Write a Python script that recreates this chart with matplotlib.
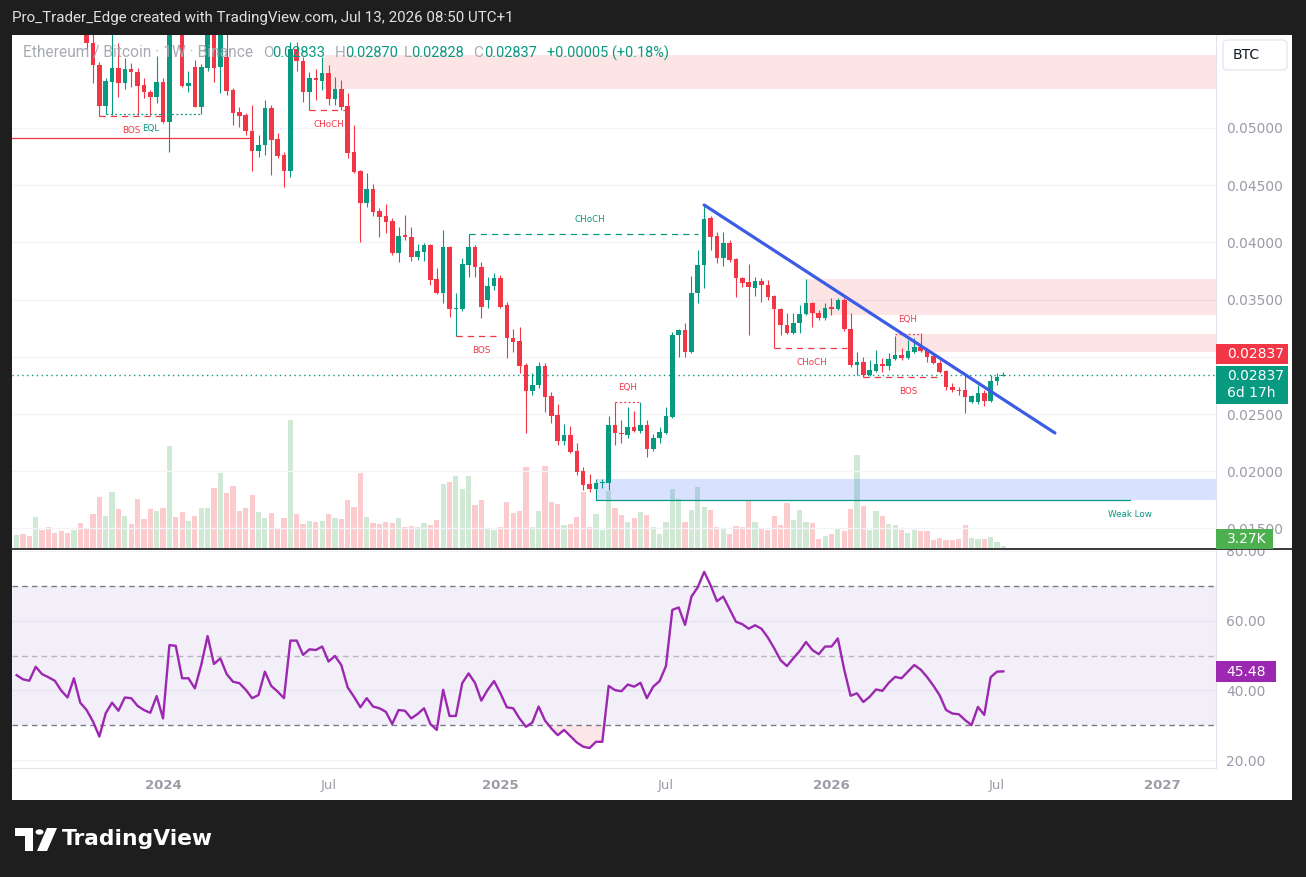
import numpy as np
import pandas as pd
import matplotlib
matplotlib.use("Agg")
import matplotlib.pyplot as plt
from matplotlib.patches import Rectangle, Polygon, Circle, FancyBboxPatch
from matplotlib.lines import Line2D
from matplotlib import font_manager as fm

W, H, DPI = 1306, 877, 100

# ---------------- data ----------------
START_DATE = "2023-07-24"   # first weekly bar

opens = [0.0626, 0.0631, 0.0625, 0.0622, 0.0636, 0.0630, 0.0627, 0.0624, 0.0616, 0.0610,
 0.0620, 0.0604, 0.05743, 0.05551, 0.05192, 0.05402, 0.05524, 0.05393, 0.05516, 0.05489,
 0.05376, 0.05315, 0.05271, 0.05402, 0.05052, 0.05950, 0.05880, 0.05367, 0.05533, 0.05184,
 0.05524, 0.05880, 0.05533, 0.05621, 0.05332, 0.05140, 0.05114, 0.04974, 0.04799, 0.04851,
 0.05175, 0.04904, 0.04764, 0.04624, 0.05690, 0.05586, 0.05315, 0.05437, 0.05411, 0.05481,
 0.05253, 0.05341, 0.05192, 0.04790, 0.04624, 0.04344, 0.04467, 0.04274, 0.04231, 0.04187,
 0.03907, 0.04065, 0.04047, 0.03872, 0.03916, 0.03977, 0.03680, 0.03558, 0.03960, 0.03418,
 0.03418, 0.03802, 0.03960, 0.03785, 0.03500, 0.03620, 0.03689, 0.03453, 0.03164, 0.03138,
 0.02928, 0.02701, 0.02754, 0.02920, 0.02657, 0.02491, 0.02264, 0.02316, 0.02177, 0.02002,
 0.01888, 0.01844, 0.01897, 0.01897, 0.02404, 0.02334, 0.02316, 0.02386, 0.02351, 0.02404,
 0.02194, 0.02290, 0.02334, 0.02474, 0.03191, 0.03234, 0.03042, 0.03558, 0.03802, 0.04213,
 0.04056, 0.03864, 0.03995, 0.03855, 0.03689, 0.03654, 0.03601, 0.03663, 0.03628, 0.03531,
 0.03418, 0.03278, 0.03208, 0.03296, 0.03374, 0.03470, 0.03383, 0.03339, 0.03435, 0.03418,
 0.03497, 0.03243, 0.02928, 0.02955, 0.02841, 0.02876, 0.02937, 0.02920, 0.02981, 0.03016,
 0.02990, 0.03042, 0.03086, 0.03060, 0.03007, 0.02946, 0.02876, 0.02736, 0.02710, 0.02710,
 0.02605, 0.02605, 0.02684, 0.02614, 0.02789, 0.02833]

highs = [0.0636, 0.0634, 0.0629, 0.0640, 0.0640, 0.0634, 0.0631, 0.0628, 0.0621, 0.0625,
 0.0623, 0.0608, 0.0590, 0.05577, 0.05437, 0.05820, 0.05743, 0.05612, 0.05568, 0.05524,
 0.05437, 0.05332, 0.05629, 0.05437, 0.06150, 0.06100, 0.05950, 0.05498, 0.05594, 0.05560,
 0.05990, 0.05950, 0.05900, 0.05830, 0.05350, 0.05184, 0.05130, 0.05201, 0.04939, 0.05245,
 0.05201, 0.04956, 0.04790, 0.05752, 0.05752, 0.05621, 0.05489, 0.05520, 0.05621, 0.05551,
 0.05446, 0.05420, 0.05306, 0.05026, 0.04633, 0.04607, 0.04510, 0.04301, 0.04336, 0.04213,
 0.04135, 0.04240, 0.04135, 0.03986, 0.03995, 0.03986, 0.03776, 0.04108, 0.03965, 0.03558,
 0.03864, 0.04073, 0.03977, 0.03829, 0.03700, 0.03733, 0.03715, 0.03479, 0.03243, 0.03260,
 0.02946, 0.02858, 0.02955, 0.02946, 0.02692, 0.02587, 0.02413, 0.02395, 0.02247, 0.02037,
 0.01976, 0.01932, 0.01932, 0.02483, 0.02605, 0.02448, 0.02561, 0.02526, 0.02605, 0.02448,
 0.02325, 0.02386, 0.02561, 0.03217, 0.03243, 0.03296, 0.03706, 0.03934, 0.04327, 0.04231,
 0.04091, 0.04091, 0.04021, 0.03864, 0.03698, 0.03811, 0.03698, 0.03689, 0.03671, 0.03540,
 0.03427, 0.03383, 0.03383, 0.03453, 0.03680, 0.03479, 0.03409, 0.03470, 0.03514, 0.03514,
 0.03514, 0.03383, 0.03042, 0.02998, 0.02972, 0.03060, 0.02990, 0.03033, 0.03182, 0.03077,
 0.03147, 0.03164, 0.03208, 0.03077, 0.03016, 0.02972, 0.02885, 0.02771, 0.02736, 0.02858,
 0.02666, 0.02754, 0.02710, 0.02841, 0.02858, 0.02870]

lows = [0.0622, 0.0622, 0.0618, 0.0620, 0.0626, 0.0622, 0.0619, 0.0612, 0.0605, 0.0606,
 0.0600, 0.05682, 0.05393, 0.05105, 0.05120, 0.05114, 0.05271, 0.05341, 0.05358, 0.05114,
 0.05262, 0.05114, 0.05219, 0.05040, 0.04790, 0.05840, 0.05358, 0.05315, 0.05184, 0.05120,
 0.05500, 0.05402, 0.05306, 0.05288, 0.05026, 0.05009, 0.04939, 0.04624, 0.04747, 0.04764,
 0.04589, 0.04738, 0.04484, 0.04572, 0.05498, 0.05230, 0.05157, 0.05245, 0.05330, 0.05201,
 0.05201, 0.05157, 0.04738, 0.04607, 0.04003, 0.04309, 0.04231, 0.04047, 0.04082, 0.03890,
 0.03829, 0.04021, 0.03837, 0.03846, 0.03837, 0.03628, 0.03550, 0.03470, 0.03348, 0.03182,
 0.03400, 0.03698, 0.03698, 0.03339, 0.03430, 0.03580, 0.03427, 0.02990, 0.03042, 0.02858,
 0.02334, 0.02666, 0.02727, 0.02518, 0.02421, 0.02229, 0.02229, 0.02159, 0.01967, 0.01836,
 0.01818, 0.01748, 0.01853, 0.01836, 0.02229, 0.02247, 0.02290, 0.02343, 0.02334, 0.02124,
 0.02177, 0.02247, 0.02325, 0.02465, 0.02998, 0.02998, 0.03030, 0.03470, 0.03601, 0.03934,
 0.03820, 0.03794, 0.03829, 0.03523, 0.03610, 0.03191, 0.03531, 0.03479, 0.03497, 0.03077,
 0.03191, 0.03200, 0.03200, 0.03208, 0.03365, 0.03260, 0.03322, 0.03322, 0.03365, 0.03409,
 0.03226, 0.02911, 0.02841, 0.02823, 0.02835, 0.02867, 0.02867, 0.02885, 0.02972, 0.02972,
 0.02985, 0.03033, 0.03042, 0.02955, 0.02937, 0.02858, 0.02710, 0.02692, 0.02666, 0.02509,
 0.02596, 0.02587, 0.02570, 0.02605, 0.02754, 0.02828]

closes = [0.0631, 0.0625, 0.0622, 0.0636, 0.0630, 0.0627, 0.0624, 0.0616, 0.0610, 0.0620,
 0.0604, 0.05743, 0.05551, 0.05192, 0.05411, 0.05524, 0.05393, 0.05516, 0.05489, 0.05367,
 0.05315, 0.05271, 0.05402, 0.05052, 0.05950, 0.05880, 0.05367, 0.05393, 0.05184, 0.05533,
 0.05880, 0.05524, 0.05830, 0.05323, 0.05131, 0.05105, 0.04974, 0.04799, 0.04851, 0.05175,
 0.04895, 0.04755, 0.04624, 0.05690, 0.05586, 0.05315, 0.05437, 0.05420, 0.05481, 0.05253,
 0.05341, 0.05184, 0.04781, 0.04615, 0.04344, 0.04467, 0.04266, 0.04222, 0.04178, 0.03907,
 0.04056, 0.04047, 0.03872, 0.03925, 0.03977, 0.03671, 0.03558, 0.03960, 0.03418, 0.03427,
 0.03811, 0.03960, 0.03785, 0.03435, 0.03620, 0.03689, 0.03435, 0.03164, 0.03129, 0.02920,
 0.02701, 0.02754, 0.02920, 0.02649, 0.02483, 0.02264, 0.02316, 0.02168, 0.01993, 0.01879,
 0.01844, 0.01897, 0.01906, 0.02404, 0.02334, 0.02325, 0.02386, 0.02351, 0.02404, 0.02194,
 0.02290, 0.02343, 0.02483, 0.03191, 0.03234, 0.03042, 0.03558, 0.03802, 0.04205, 0.04047,
 0.03864, 0.03995, 0.03846, 0.03689, 0.03645, 0.03610, 0.03663, 0.03628, 0.03523, 0.03418,
 0.03278, 0.03208, 0.03296, 0.03374, 0.03470, 0.03383, 0.03339, 0.03427, 0.03418, 0.03497,
 0.03243, 0.02928, 0.02955, 0.02841, 0.02885, 0.02937, 0.02920, 0.02981, 0.03016, 0.02990,
 0.03051, 0.03086, 0.03051, 0.02998, 0.02946, 0.02867, 0.02736, 0.02710, 0.02701, 0.02649,
 0.02657, 0.02684, 0.02614, 0.02789, 0.02824, 0.02837]

volumes_k = [25.9, 27.9, 24.0, 61.0, 35.7, 41.5, 29.8, 33.7, 29.8, 35.7,
 49.3, 37.6, 66.9, 100.0, 63.0, 109.8, 76.6, 63.0, 47.4, 96.1,
 57.1, 76.6, 72.7, 78.6, 199.5, 61.0, 70.8, 53.2, 63.0, 78.6,
 78.6, 117.6, 146.8, 107.8, 121.5, 72.7, 78.6, 103.9, 70.8, 59.1,
 68.8, 37.6, 59.1, 250.2, 66.9, 47.4, 53.2, 51.3, 53.2, 66.9,
 59.1, 57.1, 94.2, 80.5, 146.8, 61.0, 49.3, 47.4, 51.3, 49.3,
 59.1, 41.5, 43.5, 41.5, 49.3, 45.4, 55.2, 125.4, 129.3, 141.0,
 115.6, 141.0, 84.4, 94.2, 39.6, 35.7, 40.0, 90.3, 68.8, 72.7,
 158.5, 41.5, 72.7, 160.5, 90.3, 86.4, 45.4, 47.4, 61.0, 109.8,
 40.4, 66.9, 35.7, 111.7, 77.4, 64.9, 51.3, 59.1, 70.8, 64.9,
 41.5, 27.9, 51.3, 115.6, 96.1, 51.3, 74.7, 119.5, 80.5, 74.7,
 41.5, 37.6, 27.9, 43.5, 41.5, 92.2, 51.3, 37.6, 35.7, 63.0,
 45.4, 88.3, 55.2, 74.7, 51.3, 49.3, 18.1, 24.0, 27.9, 39.6,
 33.7, 76.6, 181.9, 82.5, 35.7, 72.7, 63.0, 47.4, 45.4, 35.7,
 29.8, 35.7, 33.7, 33.7, 16.2, 20.1, 16.2, 16.2, 18.1, 45.4,
 20.1, 18.1, 18.1, 22.0, 12.3, 3.27]

rsi_values = [44.4, 43.2, 42.8, 46.8, 44.7, 43.8, 42.8, 40.0, 38.0, 43.5,
 36.5, 34.4, 31.1, 26.8, 33.5, 36.5, 34.2, 38.0, 37.8, 35.6,
 34.4, 33.6, 38.4, 32.0, 53.0, 52.8, 43.5, 43.5, 40.6, 47.3,
 55.6, 47.6, 49.2, 44.7, 42.5, 42.1, 40.2, 37.8, 38.7, 45.4,
 41.3, 39.7, 37.8, 54.3, 54.3, 50.2, 51.8, 51.6, 52.6, 48.3,
 49.9, 47.3, 40.9, 38.2, 35.2, 37.8, 35.4, 34.9, 33.9, 30.4,
 34.4, 34.2, 32.0, 33.3, 34.9, 30.4, 28.7, 40.2, 32.7, 32.7,
 42.1, 44.9, 42.2, 37.1, 40.2, 42.7, 39.2, 35.2, 34.9, 32.0,
 29.6, 30.8, 35.4, 31.4, 29.1, 27.2, 28.7, 26.9, 25.1, 23.9,
 23.5, 25.3, 25.3, 41.3, 40.1, 39.8, 41.7, 41.1, 42.2, 37.8,
 41.1, 42.7, 47.0, 63.1, 63.8, 58.8, 66.9, 69.6, 74.0, 70.2,
 65.6, 66.9, 63.3, 59.7, 59.0, 57.7, 58.7, 57.7, 55.2, 52.1,
 48.7, 47.0, 49.2, 51.3, 53.9, 51.6, 50.4, 52.6, 52.6, 54.9,
 46.0, 38.5, 39.2, 36.7, 38.2, 40.3, 39.9, 42.2, 43.9, 43.5,
 45.4, 47.3, 46.0, 43.9, 41.4, 38.6, 34.4, 33.4, 33.2, 31.5,
 30.1, 35.3, 33.0, 43.8, 45.4, 45.48]

price_ticks = [0.015, 0.020, 0.025, 0.030, 0.035, 0.040, 0.045, 0.050]
price_tick_labels = ["0.01500", "0.02000", "0.02500", "", "0.03500", "0.04000", "0.04500", "0.05000"]
rsi_ticks = [20, 40, 60, 80]
rsi_tick_labels = ["20.00", "40.00", "60.00", "80.00"]
rsi_levels = [30, 50, 70]
time_tick_dates = ["2024-01-01", "2024-07-01", "2025-01-06", "2025-07-07",
                   "2026-01-05", "2026-07-06", "2027-01-04"]
time_tick_labels = ["2024", "Jul", "2025", "Jul", "2026", "Jul", "2027"]

symbol_text = "Ethereum / Bitcoin \u00b7 1W \u00b7 Binance"
ohlc_text = ["0.02833", "0.02870", "0.02828", "0.02837"]
change_text = "+0.00005 (+0.18%)"
title_text = "Pro_Trader_Edge created with TradingView.com, Jul 13, 2026 08:50 UTC+1"
last_close = 0.02837
last_volume_label = "3.27K"
last_rsi_label = "45.48"
countdown = "6d 17h"

# smart-money annotations (bar index, prices)
supply_zones = [(48, 0.05341, 0.05638), (124, 0.03365, 0.03680), (138, 0.03042, 0.03200)]
demand_zones = [(91, 0.01748, 0.01932)]
structure = [
    ("BOS", 13, 23.3, 0.05105, "bear", 18.0, "below", "dashed"),
    ("EQL", 14, 29.0, 0.05120, "bull", 21.0, "below", "dotted"),
    ("CHoCH", 46, 51.6, 0.05157, "bear", 49.0, "below", "dashed"),
    ("CHoCH", 71, 107.0, 0.04073, "bull", 90.0, "above", "dashed"),
    ("BOS", 69, 76.0, 0.03182, "bear", 73.0, "below", "dashed"),
    ("EQH", 94, 98.0, 0.02605, "bear", 96.0, "above", "dotted"),
    ("CHoCH", 119, 130.5, 0.03077, "bear", 125.0, "below", "dashed"),
    ("BOS", 133, 145.0, 0.02823, "bear", 140.0, "below", "dashed"),
    ("EQH", 138, 142.0, 0.03200, "bear", 140.0, "above", "dotted"),
]
strong_level = (-1.0, 37.0, 0.04913)
weak_low = (91, 174.9, 0.01748, "Weak Low")
trend_start = (108, 0.04327)
trend_end = (163.1, 0.02334)

# ---------------- style ----------------
GREEN = "#089981"
RED = "#f23645"
VOL_UP = "#d0e9d4"
VOL_DN = "#fccbce"
AXIS_TXT = "#9a9da6"
FRAME = "#1e1e1e"

names = {f.name for f in fm.fontManager.ttflist}
UI_FONT = "Roboto" if "Roboto" in names else "DejaVu Sans"

O = np.array(opens); Hh = np.array(highs); L = np.array(lows); C = np.array(closes)
V = np.array(volumes_k); R = np.array(rsi_values)
n = len(C)
idx = np.arange(n)
X0, X1 = -0.7226, 188.4
start = pd.Timestamp(START_DATE)

def to_bar(d):
    return (pd.Timestamp(d) - start).days / 7.0

fig = plt.figure(figsize=(W / DPI, H / DPI), dpi=DPI, facecolor=FRAME)
fig.patches.append(Rectangle((12 / W, 1 - 800 / H), (1292 - 12) / W, (800 - 35) / H,
                             transform=fig.transFigure, facecolor="white",
                             edgecolor="none", zorder=-10))

main_rect = [12 / W, 1 - 548 / H, 1204 / W, 513 / H]
rsi_rect = [12 / W, 1 - 768 / H, 1204 / W, 218 / H]

# volume (behind)
axv = fig.add_axes(main_rect, zorder=1)
axv.set_facecolor("none")
axv.axis("off")
up = C >= O
axv.bar(idx, V, width=0.82, color=np.where(up, VOL_UP, VOL_DN), linewidth=0)
axv.set_xlim(X0, X1)
axv.set_ylim(0, 1000)

# price
ax = fig.add_axes(main_rect, zorder=2)
ax.set_facecolor("none")
ax.set_xlim(X0, X1)
ax.set_ylim(0.013287, 0.058129)
for p in price_ticks:
    ax.axhline(p, color="#f2f4f8", lw=1, zorder=0)

for s, lo, hi in supply_zones:
    ax.add_patch(Rectangle((s, lo), X1 + 5 - s, hi - lo, facecolor=RED, alpha=0.13,
                           edgecolor="none", zorder=1))
for s, lo, hi in demand_zones:
    ax.add_patch(Rectangle((s, lo), X1 + 5 - s, hi - lo, facecolor="#2962ff", alpha=0.18,
                           edgecolor="none", zorder=1))

cols = np.where(up, GREEN, RED)
ax.vlines(idx, L, Hh, colors=cols, lw=0.8, zorder=3)
body = np.maximum(np.abs(C - O), 0.00009)
ax.bar(idx, body, bottom=np.minimum(O, C), width=0.72, color=cols, linewidth=0, zorder=4)

ls_map = {"dashed": (0, (5, 4)), "dotted": (0, (1.5, 2))}
for lab, s, e, lvl, kind, lx, side, sty in structure:
    col = RED if kind == "bear" else GREEN
    ax.plot([s, e], [lvl, lvl], color=col, lw=0.9, ls=ls_map[sty], zorder=5)
    off = -10.5 if side == "below" else 10.5
    ax.annotate(lab, (lx, lvl), xytext=(0, off), textcoords="offset points",
                ha="center", va="center", fontsize=6.3, color=col, zorder=6)

ax.plot([strong_level[0], strong_level[1]], [strong_level[2]] * 2, color=RED, lw=0.9, zorder=5)
ax.plot([weak_low[0], weak_low[1]], [weak_low[2]] * 2, color=GREEN, lw=0.9, zorder=5)
ax.annotate(weak_low[3], (weak_low[1], weak_low[2]), xytext=(0, -10.5), textcoords="offset points",
            ha="center", va="center", fontsize=6.3, color=GREEN)

ax.plot([trend_start[0], trend_end[0]], [trend_start[1], trend_end[1]], color="#3d5ce6",
        lw=2.3, solid_capstyle="round", zorder=7)
ax.axhline(last_close, color=GREEN, lw=1, ls=(0, (1, 2.5)), zorder=2)

ax.yaxis.tick_right()
ax.set_yticks(price_ticks)
ax.set_yticklabels(price_tick_labels)
ax.tick_params(axis="y", length=0, pad=7.5, labelsize=10, labelcolor=AXIS_TXT)
ax.tick_params(axis="x", bottom=False, labelbottom=False)
for k in ["left", "top", "bottom"]:
    ax.spines[k].set_visible(False)
ax.spines["right"].set_color("#e0e3eb")

# RSI
axr = fig.add_axes(rsi_rect, zorder=2)
axr.set_facecolor("none")
axr.set_xlim(X0, X1)
axr.set_ylim(17.79, 80.26)
for g in rsi_ticks:
    axr.axhline(g, color="#f2f4f8", lw=1, zorder=0)
axr.fill_between([X0, X1], 30, 70, color="#7e57c2", alpha=0.09, lw=0, zorder=1)
for lv in rsi_levels:
    axr.axhline(lv, color="#787b86", lw=1, ls=(0, (4, 3)), alpha=0.5 if lv == 50 else 1.0, zorder=2)
axr.fill_between(idx, R, 30, where=R < 30, interpolate=True, color=RED, alpha=0.12, lw=0, zorder=2)
axr.plot(idx, R, color="#9c27b0", lw=1.7, zorder=3)
axr.yaxis.tick_right()
axr.set_yticks(rsi_ticks)
axr.set_yticklabels(rsi_tick_labels)
axr.tick_params(axis="y", length=0, pad=7.5, labelsize=10, labelcolor=AXIS_TXT)
axr.set_xticks([to_bar(d) for d in time_tick_dates])
axr.set_xticklabels(time_tick_labels)
axr.tick_params(axis="x", length=0, pad=8, labelsize=9.5, labelcolor=AXIS_TXT)
for t in axr.get_xticklabels():
    if t.get_text().isdigit():
        t.set_fontweight("bold")
for k in ["left", "top"]:
    axr.spines[k].set_visible(False)
axr.spines["right"].set_color("#e0e3eb")
axr.spines["bottom"].set_color("#e0e3eb")

# pane separator
fig.lines.append(Line2D([12 / W, 1292 / W], [1 - 549 / H] * 2, transform=fig.transFigure,
                        color="#2a2a2a", lw=1.3, zorder=8))

renderer = fig.canvas.get_renderer()

def put(x, y, s, width=None, size=10, **kw):
    t = fig.text(x / W, 1 - y / H, s, fontsize=size, va="center", **kw)
    if width:
        bb = t.get_window_extent(renderer)
        t.set_fontsize(size * width / bb.width)
    return t

# title
put(12, 18, title_text, width=501, size=11, color="#e0e0e0", family=UI_FONT)
# legend
put(23, 53, symbol_text, width=230, size=10, color="#a8abb4", family=UI_FONT)
lx = [(263, "O", 272), (335, "H", 345), (404, "L", 411), (473, "C", 484)]
for (xl, letter, xv), val in zip(lx, ohlc_text):
    put(xl, 53, letter, size=11, color="#a8abb4", family=UI_FONT)
    put(xv, 53, val, width=53, size=10, color=GREEN, family=UI_FONT)
put(547, 53, change_text, width=121, size=10, color=GREEN, family=UI_FONT)

# BTC box
fig.patches.append(FancyBboxPatch((1223 / W, 1 - 70 / H), 64 / W, 30 / H,
                                  boxstyle="round,pad=0,rounding_size=0.004",
                                  transform=fig.transFigure, facecolor="white",
                                  edgecolor="#e6e8ee", lw=1, zorder=9))
put(1233, 55, "BTC", size=10, color="#131722", zorder=10)

def badge(x0, y0, x1, y1, color):
    fig.patches.append(Rectangle((x0 / W, 1 - y1 / H), (x1 - x0) / W, (y1 - y0) / H,
                                 transform=fig.transFigure, facecolor=color,
                                 edgecolor="none", zorder=9))

badge(1216, 344, 1288, 364, RED)
put(1227, 354.5, f"{last_close:.5f}", size=10, color="white", zorder=10)
badge(1216, 366, 1288, 404, GREEN)
put(1227, 376, f"{last_close:.5f}", size=10, color="white", zorder=10)
put(1227, 393, countdown, size=10, color="white", zorder=10)
badge(1216, 529, 1273, 549, "#4caf50")
put(1227, 539, last_volume_label, size=10, color="white", zorder=10)
badge(1216, 661, 1276, 682, "#9c27b0")
put(1226, 671.5, last_rsi_label, size=10, color="white", zorder=10)

# TradingView logo
def fx(x): return x / W
def fy(y): return 1 - y / H
fig.patches.append(Polygon([(fx(15), fy(828)), (fx(33), fy(828)), (fx(33), fy(851)),
                            (fx(25), fy(851)), (fx(25), fy(836)), (fx(15), fy(836))],
                           closed=True, transform=fig.transFigure, facecolor="white",
                           edgecolor="none"))
fig.patches.append(Circle((fx(39.5), fy(832)), 4 / W, transform=fig.transFigure,
                          facecolor="white", edgecolor="none"))
fig.patches.append(Polygon([(fx(47), fy(828)), (fx(57), fy(828)), (fx(47), fy(851)),
                            (fx(37), fy(851))], closed=True, transform=fig.transFigure,
                           facecolor="white", edgecolor="none"))
put(62, 839, "TradingView", width=151, size=16, color="white", fontweight="bold")

fig.savefig("out.png", dpi=DPI, facecolor=FRAME)
